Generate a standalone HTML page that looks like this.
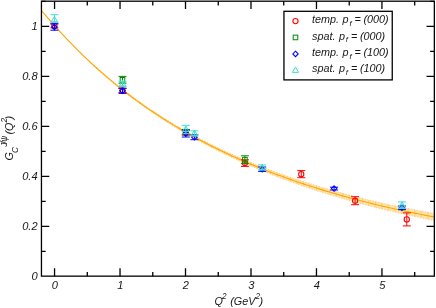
<!DOCTYPE html>
<html><head><meta charset="utf-8"><title>chart</title>
<style>html,body{margin:0;padding:0;background:#fff;}svg{display:block;will-change:transform;}text{font-family:"Liberation Sans",sans-serif;font-style:italic;fill:#181818;}</style></head><body>
<svg width="436" height="308" viewBox="0 0 436 308">
<rect x="0" y="0" width="436" height="308" fill="#fff"/>
<defs><clipPath id="c"><rect x="41.45" y="1.2" width="392.90000000000003" height="274.95"/></clipPath></defs>
<g clip-path="url(#c)">
<path d="M41.45,10.38 L44.73,14.29 L48.00,18.12 L51.28,21.88 L54.55,25.58 L57.82,29.18 L61.10,32.72 L64.37,36.20 L67.65,39.61 L70.92,42.99 L74.19,46.32 L77.47,49.58 L80.74,52.79 L84.02,55.94 L87.29,59.04 L90.56,62.09 L93.84,65.08 L97.11,68.02 L100.39,70.92 L103.66,73.76 L106.93,76.55 L110.21,79.30 L113.48,82.00 L116.76,84.66 L120.03,87.27 L123.30,89.81 L126.58,92.31 L129.85,94.77 L133.13,97.18 L136.40,99.56 L139.67,101.89 L142.95,104.19 L146.22,106.45 L149.50,108.67 L152.77,110.85 L156.04,113.00 L159.32,115.12 L162.59,117.20 L165.87,119.24 L169.14,121.26 L172.41,123.24 L175.69,125.19 L178.96,127.10 L182.24,128.99 L185.51,130.85 L188.78,132.67 L192.06,134.47 L195.33,136.24 L198.61,137.98 L201.88,139.69 L205.15,141.38 L208.43,143.04 L211.70,144.68 L214.98,146.28 L218.25,147.87 L221.52,149.43 L224.80,150.96 L228.07,152.47 L231.35,153.96 L234.62,155.43 L237.89,156.87 L241.17,158.29 L244.44,159.69 L247.72,161.07 L250.99,162.42 L254.26,163.76 L257.54,165.07 L260.81,166.37 L264.09,167.65 L267.36,168.90 L270.63,170.14 L273.91,171.36 L277.18,172.56 L280.46,173.75 L283.73,174.91 L287.00,176.06 L290.28,177.19 L293.55,178.31 L296.83,179.41 L300.10,180.49 L303.37,181.56 L306.65,182.61 L309.92,183.65 L313.20,184.67 L316.47,185.67 L319.74,186.66 L323.02,187.64 L326.29,188.60 L329.57,189.55 L332.84,190.49 L336.11,191.41 L339.39,192.32 L342.66,193.22 L345.94,194.10 L349.21,194.97 L352.48,195.83 L355.76,196.67 L359.03,197.51 L362.31,198.33 L365.58,199.14 L368.85,199.94 L372.13,200.73 L375.40,201.51 L378.68,202.27 L381.95,203.03 L385.22,203.75 L388.50,204.47 L391.77,205.18 L395.05,205.87 L398.32,206.56 L401.59,207.24 L404.87,207.90 L408.14,208.56 L411.42,209.21 L414.69,209.85 L417.96,210.48 L421.24,211.10 L424.51,211.71 L427.79,212.31 L431.06,212.91 L434.33,213.50 L434.33,220.42 L431.06,219.78 L427.79,219.13 L424.51,218.46 L421.24,217.79 L417.96,217.11 L414.69,216.43 L411.42,215.73 L408.14,215.02 L404.87,214.31 L401.59,213.58 L398.32,212.85 L395.05,212.10 L391.77,211.35 L388.50,210.59 L385.22,209.81 L381.95,209.03 L378.68,208.21 L375.40,207.39 L372.13,206.56 L368.85,205.71 L365.58,204.85 L362.31,203.98 L359.03,203.10 L355.76,202.21 L352.48,201.31 L349.21,200.39 L345.94,199.46 L342.66,198.52 L339.39,197.57 L336.11,196.60 L332.84,195.62 L329.57,194.62 L326.29,193.62 L323.02,192.60 L319.74,191.56 L316.47,190.51 L313.20,189.45 L309.92,188.37 L306.65,187.28 L303.37,186.17 L300.10,185.04 L296.83,183.90 L293.55,182.74 L290.28,181.57 L287.00,180.38 L283.73,179.17 L280.46,177.95 L277.18,176.71 L273.91,175.45 L270.63,174.17 L267.36,172.87 L264.09,171.56 L260.81,170.22 L257.54,168.87 L254.26,167.50 L250.99,166.10 L247.72,164.69 L244.44,163.25 L241.17,161.80 L237.89,160.32 L234.62,158.82 L231.35,157.29 L228.07,155.75 L224.80,154.18 L221.52,152.59 L218.25,150.97 L214.98,149.33 L211.70,147.66 L208.43,145.97 L205.15,144.25 L201.88,142.50 L198.61,140.73 L195.33,138.93 L192.06,137.11 L188.78,135.25 L185.51,133.37 L182.24,131.45 L178.96,129.51 L175.69,127.53 L172.41,125.53 L169.14,123.49 L165.87,121.42 L162.59,119.31 L159.32,117.17 L156.04,115.00 L152.77,112.79 L149.50,110.55 L146.22,108.27 L142.95,105.95 L139.67,103.60 L136.40,101.21 L133.13,98.77 L129.85,96.30 L126.58,93.79 L123.30,91.23 L120.03,88.63 L116.76,85.96 L113.48,83.25 L110.21,80.49 L106.93,77.68 L103.66,74.83 L100.39,71.93 L97.11,68.98 L93.84,65.98 L90.56,62.93 L87.29,59.82 L84.02,56.67 L80.74,53.45 L77.47,50.19 L74.19,46.86 L70.92,43.48 L67.65,40.04 L64.37,36.57 L61.10,33.04 L57.82,29.44 L54.55,25.78 L51.28,22.08 L48.00,18.32 L44.73,14.49 L41.45,10.58 Z" fill="#ffa500" fill-opacity="0.3"/>
<path d="M93.84,65.08 L97.11,68.02 L100.39,70.92 L103.66,73.76 L106.93,76.55 L110.21,79.30 L113.48,82.00 L116.76,84.66 L120.03,87.27 L123.30,89.81 L126.58,92.31 L129.85,94.77 L133.13,97.18 L136.40,99.56 L139.67,101.89 L142.95,104.19 L146.22,106.45 L149.50,108.67 L152.77,110.85 L156.04,113.00 L159.32,115.12 L162.59,117.20 L165.87,119.24 L169.14,121.26 L172.41,123.24 L175.69,125.19 L178.96,127.10 L182.24,128.99 L185.51,130.85 L188.78,132.67 L192.06,134.47 L195.33,136.24 L198.61,137.98 L201.88,139.69 L205.15,141.38 L208.43,143.04 L211.70,144.68 L214.98,146.28 L218.25,147.87 L221.52,149.43 L224.80,150.96 L228.07,152.47 L231.35,153.96 L234.62,155.43 L237.89,156.87 L241.17,158.29 L244.44,159.69 L247.72,161.07 L250.99,162.42 L254.26,163.76 L257.54,165.07 L260.81,166.37 L264.09,167.65 L267.36,168.90 L270.63,170.14 L273.91,171.36 L277.18,172.56 L280.46,173.75 L283.73,174.91 L287.00,176.06 L290.28,177.19 L293.55,178.31 L296.83,179.41 L300.10,180.49 L303.37,181.56 L306.65,182.61 L309.92,183.65 L313.20,184.67 L316.47,185.67 L319.74,186.66 L323.02,187.64 L326.29,188.60 L329.57,189.55 L332.84,190.49 L336.11,191.41 L339.39,192.32 L342.66,193.22 L345.94,194.10 L349.21,194.97 L352.48,195.83 L355.76,196.67 L359.03,197.51 L362.31,198.33 L365.58,199.14 L368.85,199.94 L372.13,200.73 L375.40,201.51 L378.68,202.27 L381.95,203.03 L385.22,203.75 L388.50,204.47 L391.77,205.18 L395.05,205.87 L398.32,206.56 L401.59,207.24 L404.87,207.90 L408.14,208.56 L411.42,209.21 L414.69,209.85 L417.96,210.48 L421.24,211.10 L424.51,211.71 L427.79,212.31 L431.06,212.91 L434.33,213.50" stroke="#ffa500" stroke-opacity="0.45" stroke-width="1" stroke-dasharray="1.3 1.5" fill="none"/>
<path d="M93.84,65.98 L97.11,68.98 L100.39,71.93 L103.66,74.83 L106.93,77.68 L110.21,80.49 L113.48,83.25 L116.76,85.96 L120.03,88.63 L123.30,91.23 L126.58,93.79 L129.85,96.30 L133.13,98.77 L136.40,101.21 L139.67,103.60 L142.95,105.95 L146.22,108.27 L149.50,110.55 L152.77,112.79 L156.04,115.00 L159.32,117.17 L162.59,119.31 L165.87,121.42 L169.14,123.49 L172.41,125.53 L175.69,127.53 L178.96,129.51 L182.24,131.45 L185.51,133.37 L188.78,135.25 L192.06,137.11 L195.33,138.93 L198.61,140.73 L201.88,142.50 L205.15,144.25 L208.43,145.97 L211.70,147.66 L214.98,149.33 L218.25,150.97 L221.52,152.59 L224.80,154.18 L228.07,155.75 L231.35,157.29 L234.62,158.82 L237.89,160.32 L241.17,161.80 L244.44,163.25 L247.72,164.69 L250.99,166.10 L254.26,167.50 L257.54,168.87 L260.81,170.22 L264.09,171.56 L267.36,172.87 L270.63,174.17 L273.91,175.45 L277.18,176.71 L280.46,177.95 L283.73,179.17 L287.00,180.38 L290.28,181.57 L293.55,182.74 L296.83,183.90 L300.10,185.04 L303.37,186.17 L306.65,187.28 L309.92,188.37 L313.20,189.45 L316.47,190.51 L319.74,191.56 L323.02,192.60 L326.29,193.62 L329.57,194.62 L332.84,195.62 L336.11,196.60 L339.39,197.57 L342.66,198.52 L345.94,199.46 L349.21,200.39 L352.48,201.31 L355.76,202.21 L359.03,203.10 L362.31,203.98 L365.58,204.85 L368.85,205.71 L372.13,206.56 L375.40,207.39 L378.68,208.21 L381.95,209.03 L385.22,209.81 L388.50,210.59 L391.77,211.35 L395.05,212.10 L398.32,212.85 L401.59,213.58 L404.87,214.31 L408.14,215.02 L411.42,215.73 L414.69,216.43 L417.96,217.11 L421.24,217.79 L424.51,218.46 L427.79,219.13 L431.06,219.78 L434.33,220.42" stroke="#ffa500" stroke-opacity="0.45" stroke-width="1" stroke-dasharray="1.3 1.5" fill="none"/>
<path d="M41.45,10.38V10.58M48.00,18.12V18.32M54.55,25.58V25.78M61.10,32.72V33.04M67.65,39.61V40.04M74.19,46.32V46.86M80.74,52.79V53.45M87.29,59.04V59.82M93.84,65.08V65.98M100.39,70.92V71.93M106.93,76.55V77.68M113.48,82.00V83.25M120.03,87.27V88.63M126.58,92.31V93.79M133.13,97.18V98.77M139.67,101.89V103.60M146.22,106.45V108.27M152.77,110.85V112.79M159.32,115.12V117.17M165.87,119.24V121.42M172.41,123.24V125.53M178.96,127.10V129.51M185.51,130.85V133.37M192.06,134.47V137.11M198.61,137.98V140.73M205.15,141.38V144.25M211.70,144.68V147.66M218.25,147.87V150.97M224.80,150.96V154.18M231.35,153.96V157.29M237.89,156.87V160.32M244.44,159.69V163.25M250.99,162.42V166.10M257.54,165.07V168.87M264.09,167.65V171.56M270.63,170.14V174.17M277.18,172.56V176.71M283.73,174.91V179.17M290.28,177.19V181.57M296.83,179.41V183.90M303.37,181.56V186.17M309.92,183.65V188.37M316.47,185.67V190.51M323.02,187.64V192.60M329.57,189.55V194.62M336.11,191.41V196.60M342.66,193.22V198.52M349.21,194.97V200.39M355.76,196.67V202.21M362.31,198.33V203.98M368.85,199.94V205.71M375.40,201.51V207.39M381.95,203.03V209.03M388.50,204.47V210.59M395.05,205.87V212.10M401.59,207.24V213.58M408.14,208.56V215.02M414.69,209.85V216.43M421.24,211.10V217.79M427.79,212.31V219.13M434.33,213.50V220.42" stroke="#ffa500" stroke-opacity="0.35" stroke-width="1" fill="none"/>
<path d="M41.45,10.48 L44.73,14.39 L48.00,18.22 L51.28,21.98 L54.55,25.68 L57.82,29.31 L61.10,32.88 L64.37,36.38 L67.65,39.83 L70.92,43.24 L74.19,46.59 L77.47,49.88 L80.74,53.12 L84.02,56.30 L87.29,59.43 L90.56,62.51 L93.84,65.53 L97.11,68.50 L100.39,71.42 L103.66,74.29 L106.93,77.12 L110.21,79.90 L113.48,82.63 L116.76,85.31 L120.03,87.95 L123.30,90.52 L126.58,93.05 L129.85,95.53 L133.13,97.98 L136.40,100.38 L139.67,102.75 L142.95,105.07 L146.22,107.36 L149.50,109.61 L152.77,111.82 L156.04,114.00 L159.32,116.15 L162.59,118.25 L165.87,120.33 L169.14,122.37 L172.41,124.38 L175.69,126.36 L178.96,128.31 L182.24,130.22 L185.51,132.11 L188.78,133.96 L192.06,135.79 L195.33,137.59 L198.61,139.36 L201.88,141.10 L205.15,142.82 L208.43,144.50 L211.70,146.17 L214.98,147.81 L218.25,149.42 L221.52,151.01 L224.80,152.57 L228.07,154.11 L231.35,155.63 L234.62,157.12 L237.89,158.59 L241.17,160.04 L244.44,161.47 L247.72,162.88 L250.99,164.26 L254.26,165.63 L257.54,166.97 L260.81,168.30 L264.09,169.60 L267.36,170.89 L270.63,172.16 L273.91,173.40 L277.18,174.64 L280.46,175.85 L283.73,177.04 L287.00,178.22 L290.28,179.38 L293.55,180.53 L296.83,181.65 L300.10,182.77 L303.37,183.86 L306.65,184.94 L309.92,186.01 L313.20,187.06 L316.47,188.09 L319.74,189.11 L323.02,190.12 L326.29,191.11 L329.57,192.09 L332.84,193.05 L336.11,194.00 L339.39,194.94 L342.66,195.87 L345.94,196.78 L349.21,197.68 L352.48,198.57 L355.76,199.44 L359.03,200.31 L362.31,201.16 L365.58,202.00 L368.85,202.82 L372.13,203.64 L375.40,204.45 L378.68,205.24 L381.95,206.03 L385.22,206.78 L388.50,207.53 L391.77,208.26 L395.05,208.99 L398.32,209.70 L401.59,210.41 L404.87,211.11 L408.14,211.79 L411.42,212.47 L414.69,213.14 L417.96,213.80 L421.24,214.45 L424.51,215.09 L427.79,215.72 L431.06,216.34 L434.33,216.96" stroke="#ffa500" stroke-width="1.1" fill="none"/>
</g>
<path d="M54.40,23.90V27.90M50.40,23.90H58.40M50.40,27.90H58.40" stroke="#ff0000" stroke-width="1" fill="none"/>
<circle cx="54.40" cy="25.90" r="2.6" stroke="#ff0000" stroke-width="1.1" fill="none"/>
<path d="M122.50,88.50V92.50M118.50,88.50H126.50M118.50,92.50H126.50" stroke="#ff0000" stroke-width="1" fill="none"/>
<circle cx="122.50" cy="90.50" r="2.6" stroke="#ff0000" stroke-width="1.1" fill="none"/>
<path d="M185.80,130.20V135.20M181.80,130.20H189.80M181.80,135.20H189.80" stroke="#ff0000" stroke-width="1" fill="none"/>
<circle cx="185.80" cy="132.70" r="2.6" stroke="#ff0000" stroke-width="1.1" fill="none"/>
<path d="M244.90,159.80V166.40M240.90,159.80H248.90M240.90,166.40H248.90" stroke="#ff0000" stroke-width="1" fill="none"/>
<circle cx="244.90" cy="163.10" r="2.6" stroke="#ff0000" stroke-width="1.1" fill="none"/>
<path d="M301.25,170.60V177.70M297.25,170.60H305.25M297.25,177.70H305.25" stroke="#ff0000" stroke-width="1" fill="none"/>
<circle cx="301.25" cy="174.15" r="2.6" stroke="#ff0000" stroke-width="1.1" fill="none"/>
<path d="M355.10,196.70V204.70M351.10,196.70H359.10M351.10,204.70H359.10" stroke="#ff0000" stroke-width="1" fill="none"/>
<circle cx="355.10" cy="200.70" r="2.6" stroke="#ff0000" stroke-width="1.1" fill="none"/>
<path d="M406.80,212.90V225.90M402.80,212.90H410.80M402.80,225.90H410.80" stroke="#ff0000" stroke-width="1" fill="none"/>
<circle cx="406.80" cy="219.40" r="2.6" stroke="#ff0000" stroke-width="1.1" fill="none"/>
<path d="M122.50,76.40V83.20M118.50,76.40H126.50M118.50,83.20H126.50" stroke="#008b00" stroke-width="1" fill="none"/>
<rect x="120.20" y="77.50" width="4.6" height="4.6" stroke="#008b00" stroke-width="1" fill="none"/>
<path d="M185.80,129.50V134.50M181.80,129.50H189.80M181.80,134.50H189.80" stroke="#008b00" stroke-width="1" fill="none"/>
<rect x="183.50" y="129.70" width="4.6" height="4.6" stroke="#008b00" stroke-width="1" fill="none"/>
<path d="M244.90,155.80V163.60M240.90,155.80H248.90M240.90,163.60H248.90" stroke="#008b00" stroke-width="1" fill="none"/>
<rect x="242.60" y="157.40" width="4.6" height="4.6" stroke="#008b00" stroke-width="1" fill="none"/>
<path d="M54.40,23.80V30.20M50.40,23.80H58.40M50.40,30.20H58.40" stroke="#0000ff" stroke-width="1" fill="none"/>
<path d="M54.40,24.30L57.10,27.00L54.40,29.70L51.70,27.00Z" stroke="#0000ff" stroke-width="1.1" fill="none"/>
<path d="M122.50,88.20V93.40M118.50,88.20H126.50M118.50,93.40H126.50" stroke="#0000ff" stroke-width="1" fill="none"/>
<path d="M122.50,88.10L125.20,90.80L122.50,93.50L119.80,90.80Z" stroke="#0000ff" stroke-width="1.1" fill="none"/>
<path d="M185.80,130.00V137.00M181.80,130.00H189.80M181.80,137.00H189.80" stroke="#0000ff" stroke-width="1" fill="none"/>
<path d="M185.80,130.80L188.50,133.50L185.80,136.20L183.10,133.50Z" stroke="#0000ff" stroke-width="1.1" fill="none"/>
<path d="M194.40,134.90V139.70M190.40,134.90H198.40M190.40,139.70H198.40" stroke="#0000ff" stroke-width="1" fill="none"/>
<path d="M194.40,134.60L197.10,137.30L194.40,140.00L191.70,137.30Z" stroke="#0000ff" stroke-width="1.1" fill="none"/>
<path d="M262.20,167.00V171.40M258.20,167.00H266.20M258.20,171.40H266.20" stroke="#0000ff" stroke-width="1" fill="none"/>
<path d="M262.20,166.50L264.90,169.20L262.20,171.90L259.50,169.20Z" stroke="#0000ff" stroke-width="1.1" fill="none"/>
<path d="M334.10,187.20V190.00M330.10,187.20H338.10M330.10,190.00H338.10" stroke="#0000ff" stroke-width="1" fill="none"/>
<path d="M334.10,185.90L336.80,188.60L334.10,191.30L331.40,188.60Z" stroke="#0000ff" stroke-width="1.1" fill="none"/>
<path d="M402.00,206.00V209.60M398.00,206.00H406.00M398.00,209.60H406.00" stroke="#0000ff" stroke-width="1" fill="none"/>
<path d="M402.00,205.10L404.70,207.80L402.00,210.50L399.30,207.80Z" stroke="#0000ff" stroke-width="1.1" fill="none"/>
<path d="M54.45,14.70V22.40M50.45,14.70H58.45M50.45,22.40H58.45" stroke="#40e0d0" stroke-width="1" fill="none"/>
<path d="M54.45,16.40L57.55,21.80L51.35,21.80Z" stroke="#40e0d0" stroke-width="1" fill="none"/>
<path d="M122.50,81.30V86.50M118.50,81.30H126.50M118.50,86.50H126.50" stroke="#40e0d0" stroke-width="1" fill="none"/>
<path d="M122.50,80.40L125.60,85.80L119.40,85.80Z" stroke="#40e0d0" stroke-width="1" fill="none"/>
<path d="M185.80,125.30V133.70M181.80,125.30H189.80M181.80,133.70H189.80" stroke="#40e0d0" stroke-width="1" fill="none"/>
<path d="M185.80,126.00L188.90,131.40L182.70,131.40Z" stroke="#40e0d0" stroke-width="1" fill="none"/>
<path d="M194.40,130.80V136.20M190.40,130.80H198.40M190.40,136.20H198.40" stroke="#40e0d0" stroke-width="1" fill="none"/>
<path d="M194.40,130.00L197.50,135.40L191.30,135.40Z" stroke="#40e0d0" stroke-width="1" fill="none"/>
<path d="M262.20,164.90V170.10M258.20,164.90H266.20M258.20,170.10H266.20" stroke="#40e0d0" stroke-width="1" fill="none"/>
<path d="M262.20,164.00L265.30,169.40L259.10,169.40Z" stroke="#40e0d0" stroke-width="1" fill="none"/>
<path d="M402.00,201.90V208.50M398.00,201.90H406.00M398.00,208.50H406.00" stroke="#40e0d0" stroke-width="1" fill="none"/>
<path d="M402.00,201.70L405.10,207.10L398.90,207.10Z" stroke="#40e0d0" stroke-width="1" fill="none"/>
<rect x="41.45" y="1.2" width="392.90000000000003" height="274.95" fill="none" stroke="#000" stroke-width="1.3"/>
<path d="M54.55,276.15v-7.8M54.55,1.2v7.8M87.29,276.15v-4.2M87.29,1.2v4.2M120.03,276.15v-7.8M120.03,1.2v7.8M152.77,276.15v-4.2M152.77,1.2v4.2M185.51,276.15v-7.8M185.51,1.2v7.8M218.25,276.15v-4.2M218.25,1.2v4.2M250.99,276.15v-7.8M250.99,1.2v7.8M283.73,276.15v-4.2M283.73,1.2v4.2M316.47,276.15v-7.8M316.47,1.2v7.8M349.21,276.15v-4.2M349.21,1.2v4.2M381.95,276.15v-7.8M381.95,1.2v7.8M414.69,276.15v-4.2M414.69,1.2v4.2M41.45,251.30h4.2M434.35,251.30h-4.2M41.45,226.30h7.8M434.35,226.30h-7.8M41.45,201.30h4.2M434.35,201.30h-4.2M41.45,176.30h7.8M434.35,176.30h-7.8M41.45,151.30h4.2M434.35,151.30h-4.2M41.45,126.30h7.8M434.35,126.30h-7.8M41.45,101.30h4.2M434.35,101.30h-4.2M41.45,76.30h7.8M434.35,76.30h-7.8M41.45,51.30h4.2M434.35,51.30h-4.2M41.45,26.30h7.8M434.35,26.30h-7.8M41.45,1.30h4.2M434.35,1.30h-4.2" stroke="#000" stroke-width="1.3" fill="none"/>
<text x="54.85" y="288.6" font-size="11.1" text-anchor="middle">0</text>
<text x="120.33" y="288.6" font-size="11.1" text-anchor="middle">1</text>
<text x="185.81" y="288.6" font-size="11.1" text-anchor="middle">2</text>
<text x="251.29" y="288.6" font-size="11.1" text-anchor="middle">3</text>
<text x="316.77" y="288.6" font-size="11.1" text-anchor="middle">4</text>
<text x="382.25" y="288.6" font-size="11.1" text-anchor="middle">5</text>
<text x="37.6" y="280.20" font-size="11.1" text-anchor="end">0</text>
<text x="37.6" y="230.20" font-size="11.1" text-anchor="end">0.2</text>
<text x="37.6" y="180.20" font-size="11.1" text-anchor="end">0.4</text>
<text x="37.6" y="130.20" font-size="11.1" text-anchor="end">0.6</text>
<text x="37.6" y="80.20" font-size="11.1" text-anchor="end">0.8</text>
<text x="37.6" y="30.20" font-size="11.1" text-anchor="end">1</text>
<text y="304.9" font-size="10.8"><tspan x="214.4">Q</tspan><tspan x="221.9" font-size="8.21" dy="-6">2</tspan><tspan x="230.2" dy="6">(GeV</tspan><tspan x="255.6" font-size="8.21" dy="-6">2</tspan><tspan x="259.6" dy="6">)</tspan></text>
<text transform="translate(12.7,160.6) rotate(-90)" font-size="10.8"><tspan x="0">G</tspan><tspan x="7.7" font-size="8.21" dy="4.9">C</tspan><tspan x="13.8" font-size="8.3" dy="-11.0" letter-spacing="-0.75">J/&#968;</tspan><tspan x="26.0" dy="6.1" font-size="10.8" letter-spacing="0">(Q</tspan><tspan x="38.1" font-size="8.21" dy="-6">2</tspan><tspan x="41.2" dy="6">)</tspan></text>
<rect x="283.95" y="11.3" width="108.3" height="68.6" fill="#fff" stroke="#000" stroke-width="1.3"/>
<circle cx="295.50" cy="21.10" r="2.6" stroke="#ff0000" stroke-width="1.1" fill="none"/>
<text y="23.2" font-size="10.8"><tspan x="312.0">temp.</tspan><tspan x="342.60">p</tspan><tspan x="349.40" font-size="7.67" dy="2.8">f</tspan><tspan x="354.60" dy="-2.8">=</tspan><tspan x="363.50">(000)</tspan></text>
<rect x="293.20" y="35.15" width="4.6" height="4.6" stroke="#008b00" stroke-width="1" fill="none"/>
<text y="39.6" font-size="10.8"><tspan x="312.0">spat.</tspan><tspan x="339.00">p</tspan><tspan x="345.80" font-size="7.67" dy="2.8">f</tspan><tspan x="351.00" dy="-2.8">=</tspan><tspan x="359.90">(000)</tspan></text>
<path d="M295.50,51.20L298.20,53.90L295.50,56.60L292.80,53.90Z" stroke="#0000ff" stroke-width="1.1" fill="none"/>
<text y="56.1" font-size="10.8"><tspan x="312.0">temp.</tspan><tspan x="342.60">p</tspan><tspan x="349.40" font-size="7.67" dy="2.8">f</tspan><tspan x="354.60" dy="-2.8">=</tspan><tspan x="363.50">(100)</tspan></text>
<path d="M295.50,67.00L298.60,72.40L292.40,72.40Z" stroke="#40e0d0" stroke-width="1" fill="none"/>
<text y="72.4" font-size="10.8"><tspan x="312.0">spat.</tspan><tspan x="339.00">p</tspan><tspan x="345.80" font-size="7.67" dy="2.8">f</tspan><tspan x="351.00" dy="-2.8">=</tspan><tspan x="359.90">(100)</tspan></text>
</svg></body></html>
